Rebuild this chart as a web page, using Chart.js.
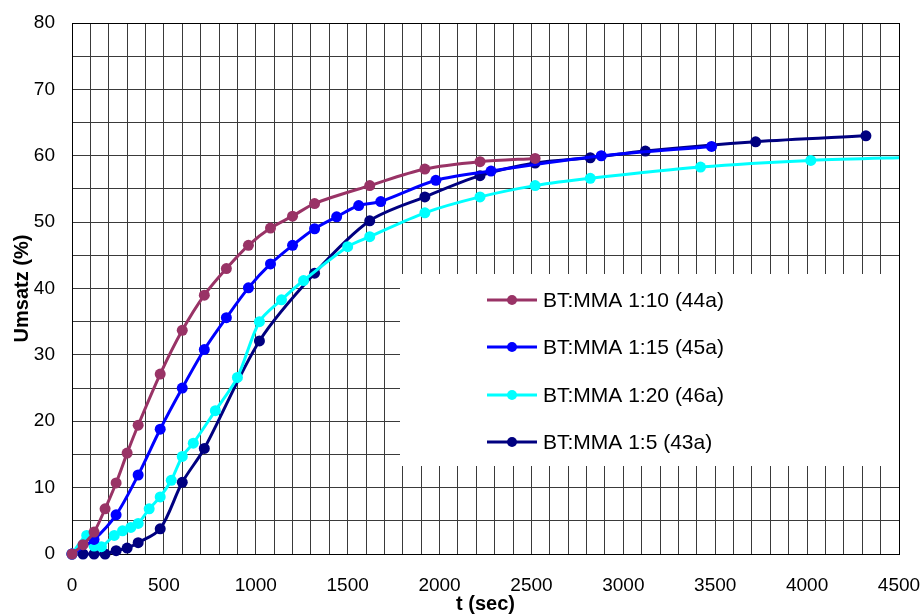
<!DOCTYPE html>
<html>
<head>
<meta charset="utf-8">
<script src="https://cdn.jsdelivr.net/npm/chart.js@4/dist/chart.umd.min.js"></script>
<style>
  body { margin: 0; background: #fff; }
  #wrap { width: 923px; height: 616px; }
</style>
</head>
<body>
<div id="wrap"><canvas id="myChart" width="923" height="616"></canvas></div>
<script>
// series labels + colours
const seriesNames = ['BT:MMA 1:10 (44a)', 'BT:MMA 1:15 (45a)', 'BT:MMA 1:20 (46a)', 'BT:MMA 1:5 (43a)']
const seriesColors = ['#993366', '#0000FF', '#00FFFF', '#000080']

// t (sec) / Umsatz (%)
const t44a = [0, 60, 120, 180, 240, 300, 360, 480, 600, 720, 840, 960, 1080, 1200, 1320, 1620, 1920, 2220, 2520]
const u44a = [0, 1.4, 3.3, 6.8, 10.7, 15.2, 19.4, 27.1, 33.7, 39.0, 43.0, 46.5, 49.1, 50.9, 52.8, 55.5, 58.0, 59.1, 59.6]

const t45a = [0, 120, 240, 360, 480, 600, 720, 840, 960, 1080, 1200, 1320, 1440, 1560, 1680, 1980, 2280, 2880, 3480]
const u45a = [0, 2.2, 5.9, 11.9, 18.8, 25.0, 30.8, 35.6, 40.1, 43.7, 46.5, 49.0, 50.8, 52.5, 53.1, 56.3, 57.7, 60.0, 61.4]

const t46a = [0, 80, 120, 160, 230, 275, 320, 360, 420, 480, 540, 600, 660, 780, 900, 1020, 1140, 1260, 1500, 1620, 1920, 2220, 2520, 2820, 3420, 4020, 4620]
const u46a = [0, 2.8, 1.2, 1.1, 2.8, 3.5, 4.0, 4.6, 6.8, 8.6, 11.1, 14.7, 16.7, 21.6, 26.6, 35.0, 38.3, 41.2, 46.3, 47.8, 51.4, 53.8, 55.5, 56.6, 58.3, 59.3, 59.8]

const t43a = [0, 60, 120, 180, 240, 300, 360, 480, 600, 720, 1020, 1320, 1620, 1920, 2220, 2520, 2820, 3120, 3720, 4320]
const u43a = [0, 0, 0, 0, 0.5, 0.9, 1.7, 3.8, 10.8, 15.9, 32.1, 42.3, 50.2, 53.8, 57.0, 58.9, 59.7, 60.7, 62.1, 63.0]

// axis tick labels
const xTickLabels = [0, 500, 1000, 1500, 2000, 2500, 3000, 3500, 4000, 4500]
const yTickLabels = [0, 10, 20, 30, 40, 50, 60, 70, 80]

const FONT = "'Liberation Sans', Arial, sans-serif"

const toPoints = (xs, ys) => xs.map((x, i) => ({ x: x, y: ys[i] }))
const allT = [t44a, t45a, t46a, t43a]
const allU = [u44a, u45a, u46a, u43a]

const datasets = seriesNames.map((name, i) => ({
  label: name,
  data: toPoints(allT[i], allU[i]),
  borderColor: seriesColors[i],
  backgroundColor: seriesColors[i],
  borderWidth: 3,
  pointRadius: 5.5,
  pointHoverRadius: 5.5,
  pointBorderWidth: 0,
  tension: 0.3,
  clip: { left: 10, bottom: 10, top: 0, right: 0 }
}))

// white legend box sitting inside the plot, like the original
const legendBox = {
  id: 'legendBox',
  beforeDatasetsDraw(chart) {
    const c = chart.ctx
    c.save()
    c.fillStyle = '#fff'
    c.fillRect(400, 274, 505, 192)
    c.restore()
  },
  afterDatasetsDraw(chart) {
    const c = chart.ctx
    const rows = [300, 347, 395, 442]
    c.save()
    chart.data.datasets.forEach((ds, i) => {
      const y = rows[i]
      c.strokeStyle = ds.borderColor
      c.lineWidth = 3
      c.beginPath()
      c.moveTo(487, y)
      c.lineTo(537, y)
      c.stroke()
      c.fillStyle = ds.backgroundColor
      c.beginPath()
      c.arc(512, y, 5, 0, Math.PI * 2)
      c.fill()
      c.fillStyle = '#000'
      c.font = '21px ' + FONT
      c.textAlign = 'left'
      c.textBaseline = 'middle'
      c.fillText(ds.label, 543, y + 1)
    })
    c.restore()
  }
}

// top + right frame of the plot area
const frame = {
  id: 'frame',
  beforeDatasetsDraw(chart) {
    const a = chart.chartArea
    const c = chart.ctx
    c.save()
    c.strokeStyle = '#000'
    c.lineWidth = 1
    c.strokeRect(a.left + 0.5, a.top + 0.5, a.right - a.left, a.bottom - a.top)
    c.restore()
  }
}

const ctx = document.getElementById('myChart')

const grafica = new Chart(ctx, {
  type: 'line',
  data: { datasets: datasets },
  options: {
    responsive: false,
    animation: false,
    devicePixelRatio: 1,
    layout: { padding: { top: 23, right: 24, left: 0, bottom: 0 } },
    plugins: {
      legend: { display: false },
      tooltip: { enabled: false }
    },
    scales: {
      x: {
        type: 'linear',
        min: 0,
        max: 4500,
        afterFit: (s) => {
          s.height = 62
          s.paddingLeft = 0
          s.paddingRight = 0
        },
        grid: { color: '#3a3a3a', lineWidth: 1, drawTicks: false },
        border: { color: '#000', width: 1 },
        ticks: {
          stepSize: 100,
          autoSkip: false,
          maxRotation: 0,
          padding: 20,
          color: '#000',
          font: { family: FONT, size: 19 },
          callback: (v) => xTickLabels.includes(v) ? String(v) : ''
        },
        title: {
          display: true,
          text: 't (sec)',
          color: '#000',
          font: { family: FONT, size: 20, weight: 'bold' },
          padding: { top: 0, bottom: 0 }
        }
      },
      y: {
        min: 0,
        max: 80,
        afterFit: (s) => {
          s.width = 72
          s.paddingTop = 0
          s.paddingBottom = 0
        },
        grid: { color: '#3a3a3a', lineWidth: 1, drawTicks: false },
        border: { color: '#000', width: 1 },
        ticks: {
          stepSize: 5,
          autoSkip: false,
          padding: 17,
          color: '#000',
          font: { family: FONT, size: 19 },
          callback: (v) => yTickLabels.includes(v) ? String(v) : ''
        },
        title: {
          display: true,
          text: 'Umsatz (%)',
          color: '#000',
          font: { family: FONT, size: 20, weight: 'bold' },
          padding: { top: 10, bottom: 0 }
        }
      }
    }
  },
  plugins: [legendBox, frame]
})
</script>
</body>
</html>
